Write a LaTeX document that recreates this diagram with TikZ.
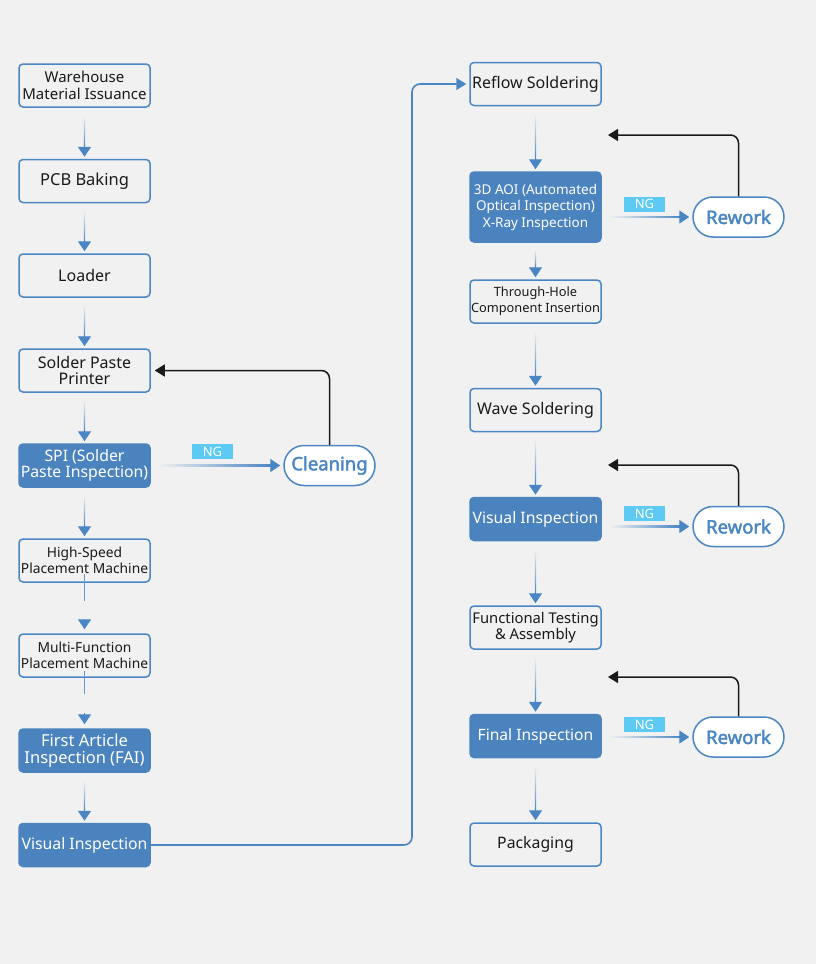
\documentclass[tikz,border=0pt]{standalone}
\usepackage{fontspec}
\setmainfont{Noto Sans}
\newfontfamily\pillfont{Noto Sans}[FakeBold=2.2]
\usetikzlibrary{arrows.meta,calc}
\definecolor{bg}{HTML}{F1F1F1}
\definecolor{mblue}{HTML}{4A86C4}
\definecolor{fblue}{HTML}{4A83BE}
\definecolor{ngc}{HTML}{5DCAF4}
\definecolor{dark}{HTML}{1A1A1A}
\newcommand{\fsz}[2]{\fontsize{#1}{#2}\selectfont}
\tikzset{
  stepbox/.style={rectangle, rounded corners=4pt, draw=mblue, line width=1.5pt, fill=bg,
    minimum width=131pt, minimum height=43pt, align=center, text=dark, inner sep=1pt},
  fillbox/.style={stepbox, fill=fblue, draw=fblue, text=white},
  pill/.style={rectangle, rounded corners=20pt, draw=mblue, line width=1.5pt, fill=white,
    minimum width=91pt, minimum height=40pt, inner sep=0pt, text=mblue, font=\pillfont\fsz{18.5}{20}},
  nglab/.style={rectangle, fill=ngc, text=white, minimum width=41pt, minimum height=15pt,
    inner sep=0pt, font=\fsz{13}{13}},
  vfade/.style={top color=bg, middle color=mblue, bottom color=mblue},
  hfade/.style={left color=bg, middle color=mblue, right color=mblue},
  flowline/.style={draw=mblue!85, line width=1.4pt},
  flowhead/.style={draw=mblue, line width=1.4pt, -{Triangle[width=13pt,length=10pt]}, shorten >=2pt},
  back/.style={draw=dark, line width=1.5pt, -{Triangle[width=12pt,length=10pt]}, rounded corners=8pt},
  link/.style={draw=mblue, line width=1.6pt, -{Triangle[width=12pt,length=10pt]}, rounded corners=8pt, shorten >=3pt}
}
% vertical faded connector from node #1 (south) to node #2 (north)
\newcommand{\vflow}[2]{%
  \shade[vfade] ([xshift=-0.7pt,yshift=-7pt]#1.south) rectangle ([xshift=0.7pt,yshift=11pt]#2.north);
  \draw[flowhead] ([yshift=13pt]#2.north) -- (#2.north);}
% horizontal faded connector from node #1 (east) to node #2 (west)
\newcommand{\hflow}[2]{%
  \shade[hfade] ([xshift=7pt,yshift=-0.7pt]#1.east |- #2.west) rectangle ([xshift=-12pt,yshift=0.7pt]#2.west);
  \draw[flowhead, shorten >=3pt] ([xshift=-14pt]#2.west) -- (#2.west);}
\begin{document}
\begin{tikzpicture}[x=1pt,y=-1pt]
\useasboundingbox (0,0) rectangle (816,964);
\fill[bg] (0,0) rectangle (816,964);

% left column
\node[stepbox, font=\fsz{15}{16.5}] (wh) at (84.5,85.5) {Warehouse\\Material Issuance};
\node[stepbox, font=\fsz{16.5}{18}] (pcb) at (84.5,181) {PCB Baking};
\node[stepbox, font=\fsz{16}{18}] (ld) at (84.5,275.5) {Loader};
\node[stepbox, font=\fsz{16}{16.5}] (sp) at (84.5,370.5) {Solder Paste\\Printer};
\node[fillbox, font=\fsz{15.8}{16.5}] (spi) at (84.5,465.5) {SPI (Solder\\Paste Inspection)};
\node[stepbox, font=\fsz{13.8}{16}] (hs) at (84.5,560.5) {High-Speed\\Placement Machine};
\node[stepbox, font=\fsz{13.8}{16}] (mf) at (84.5,655.5) {Multi-Function\\Placement Machine};
\node[fillbox, font=\fsz{16.5}{17}] (fai) at (84.5,750.5) {First Article\\Inspection (FAI)};
\node[fillbox, font=\fsz{15.8}{18}] (vi) at (84.5,845) {Visual Inspection};

% right column
\node[stepbox, font=\fsz{16}{18}] (rf) at (535.5,84) {Reflow Soldering};
\node[fillbox, minimum height=70pt, font=\fsz{13.5}{16.5}] (aoi) at (535.5,207) {3D AOI (Automated\\Optical Inspection)\\X-Ray Inspection};
\node[stepbox, font=\fsz{12.8}{16}] (th) at (535.5,301.5) {Through-Hole\\Component Insertion};
\node[stepbox, font=\fsz{16}{18}] (ws) at (535.5,410) {Wave Soldering};
\node[fillbox, font=\fsz{15.8}{18}] (vi2) at (535.5,519) {Visual Inspection};
\node[stepbox, font=\fsz{14.8}{16.5}] (ft) at (535.5,627.5) {Functional Testing\\\& Assembly};
\node[fillbox, font=\fsz{15.6}{18}] (fi) at (535.5,736) {Final Inspection};
\node[stepbox, font=\fsz{15.8}{18}] (pk) at (535.5,844.5) {Packaging};

% side nodes
\node[pill] (cl) at (329.5,465.5) {Cleaning};
\node[pill] (rw1) at (738.5,217) {Rework};
\node[pill] (rw2) at (738.5,526.5) {Rework};
\node[pill] (rw3) at (738.5,737) {Rework};

\node[nglab] (ng0) at (212.5,451.5) {NG};
\node[nglab] (ng1) at (644.5,204) {NG};
\node[nglab] (ng2) at (644.5,513.5) {NG};
\node[nglab] (ng3) at (644.5,724.5) {NG};

\coordinate (t1) at (608,135);
\coordinate (t2) at (608,465);
\coordinate (t3) at (608,677);
\coordinate (bx) at (412,845);

% main flow left
\vflow{wh}{pcb}
\vflow{pcb}{ld}
\vflow{ld}{sp}
\vflow{sp}{spi}
\vflow{spi}{hs}
\draw[flowline] ([yshift=9pt]hs.south) -- ([yshift=-18pt]hs.south);
\draw[flowhead, shorten >=4pt] ([yshift=-37pt]hs.south) -- (mf.north);
\draw[flowline] ([yshift=7pt]mf.south) -- ([yshift=-16pt]mf.south);
\draw[flowhead, shorten >=4pt] ([yshift=-35pt]mf.south) -- (fai.north);
\vflow{fai}{vi}

% main flow right
\vflow{rf}{aoi}
\vflow{aoi}{th}
\vflow{th}{ws}
\vflow{ws}{vi2}
\vflow{vi2}{ft}
\vflow{ft}{fi}
\vflow{fi}{pk}

% link between columns
\draw[link] (vi.east) -- (bx) |- (rf.west);

% NG branches
\hflow{spi}{cl}
\hflow{aoi}{rw1}
\hflow{vi2}{rw2}
\hflow{fi}{rw3}

% feedback
\draw[back, shorten >=4pt] (cl.north) |- (sp.east);
\draw[back] (rw1.north) |- (t1);
\draw[back] (rw2.north) |- (t2);
\draw[back] (rw3.north) |- (t3);
\end{tikzpicture}
\end{document}
